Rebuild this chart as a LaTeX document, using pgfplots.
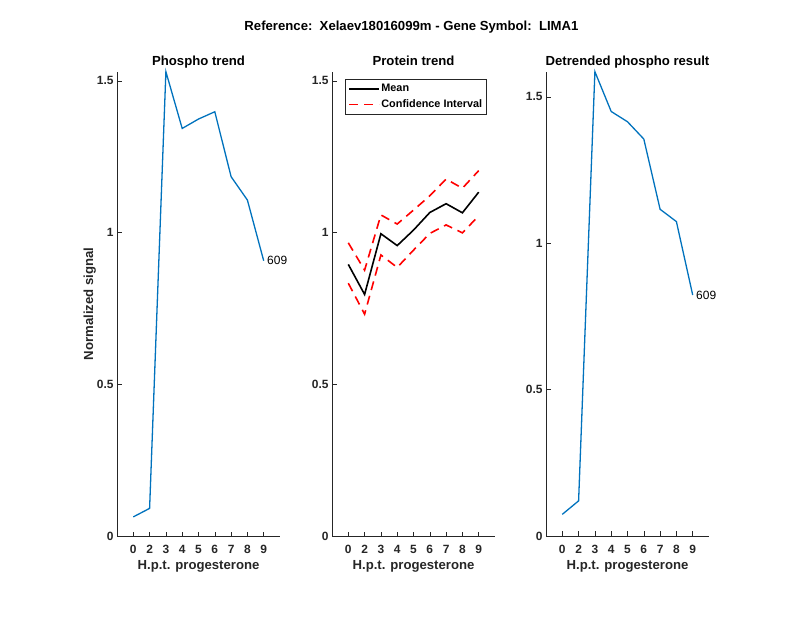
\documentclass[border=0pt]{standalone}
\usepackage{pgfplots}
\pgfplotsset{compat=1.18}
\usepackage{fontspec}
\setmainfont{Liberation Sans}
\definecolor{axgray}{RGB}{38,38,38}
\definecolor{mblue}{RGB}{0,114,189}
\pgfplotsset{
  panel/.style={
    scale only axis, width=163bp, height=464.3bp,
    anchor=south west,
    axis lines*=left,
    axis line style={axgray, line width=0.5bp},
    tick align=inside, major tick length=4.5bp,
    every tick/.style={axgray, line width=0.5bp},
    xmin=0, xmax=10, ymin=0,
    xtick={1,...,9}, xticklabels={0,2,3,4,5,6,7,8,9},
    ytick={0,0.5,1,1.5},
    /pgf/number format/assume math mode=true,
    ticklabel style={font=\fontsize{12}{14}\selectfont\bfseries, text=axgray},
    xticklabel style={anchor=base, yshift=-17.3bp},
    every axis title/.style={at={(axis description cs:0.5,1.0144)}, anchor=base, font=\fontsize{13.2}{15}\selectfont\bfseries, text=black},
    every axis x label/.style={at={(axis description cs:0.5,-0.0732)}, anchor=base, font=\fontsize{13.2}{15}\selectfont\bfseries, text=axgray},
    every axis y label/.style={at={(axis description cs:-0.147,0.5)}, rotate=90, anchor=base, font=\fontsize{13.2}{15}\selectfont\bfseries, text=axgray},
    clip=false,
  }
}
\begin{document}
\begin{tikzpicture}
\path[use as bounding box] (0,0) rectangle (800bp,618bp);
\node[anchor=base, font=\fontsize{13.2}{15}\selectfont\bfseries] at (411.5bp,587bp) {Reference:\ \ Xelaev18016099m - Gene Symbol:\ \ LIMA1};

\begin{axis}[panel, at={(117bp,82bp)}, ymax=1.53,
  title={Phospho trend}, xlabel={H.p.t. progesterone}, ylabel={Normalized signal}]
\addplot[mblue, line width=1.3bp] coordinates {
(1,0.063) (2,0.091) (3,1.53) (4,1.343) (5,1.374) (6,1.398) (7,1.184) (8,1.107) (9,0.907)};
\node[anchor=west, font=\fontsize{12}{14}\selectfont, text=black] at (axis cs:9,0.907) {609};
\end{axis}

\begin{axis}[panel, at={(332bp,82bp)}, ymax=1.53,
  title={Protein trend}, xlabel={H.p.t. progesterone},
  legend style={at={(axis description cs:0.080,0.984)}, anchor=north west,
    draw=axgray, line width=0.5bp, fill=white,
    font=\fontsize{10.9}{12}\selectfont\bfseries, text=black,
    inner xsep=3bp, inner ysep=2bp, row sep=0.5bp,
    nodes={inner xsep=1.5bp, inner ysep=3bp}},
  legend cell align=left,
  legend image code/.code={\draw[#1] (0bp,0bp) -- (30bp,0bp);}]
\addplot[black, line width=1.6bp] coordinates {
(1,0.895) (2,0.796) (3,0.996) (4,0.957) (5,1.008) (6,1.066) (7,1.095) (8,1.065) (9,1.133)};
\addlegendentry{Mean}
\addplot[red, line width=1.6bp, dash pattern=on 9bp off 6bp] coordinates {
(1,0.966) (2,0.876) (3,1.058) (4,1.028) (5,1.074) (6,1.121) (7,1.176) (8,1.146) (9,1.204)};
\addlegendentry{Confidence Interval}
\addplot[red, line width=1.6bp, dash pattern=on 9bp off 6bp, forget plot] coordinates {
(1,0.833) (2,0.731) (3,0.926) (4,0.885) (5,0.942) (6,0.997) (7,1.025) (8,0.999) (9,1.055)};
\end{axis}

\begin{axis}[panel, at={(546bp,82bp)}, ymax=1.586,
  title={Detrended phospho result}, xlabel={H.p.t. progesterone}]
\addplot[mblue, line width=1.3bp] coordinates {
(1,0.074) (2,0.120) (3,1.586) (4,1.450) (5,1.415) (6,1.356) (7,1.116) (8,1.074) (9,0.823)};
\node[anchor=west, font=\fontsize{12}{14}\selectfont, text=black] at (axis cs:9,0.823) {609};
\end{axis}
\end{tikzpicture}
\end{document}
